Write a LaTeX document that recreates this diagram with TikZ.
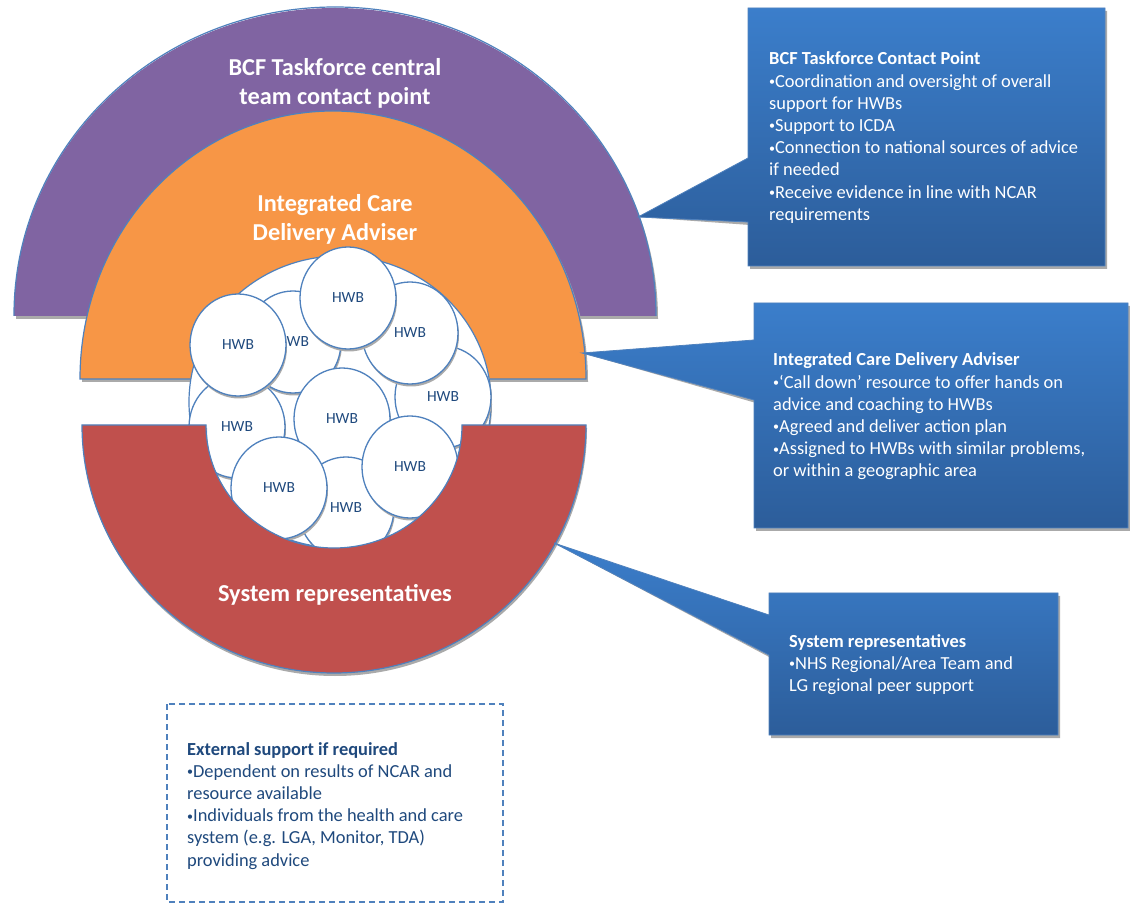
\documentclass[tikz,border=0pt]{standalone}
\usepackage{fontspec}
\setmainfont{Carlito}
\usetikzlibrary{shapes.geometric,shadows}
\definecolor{cpurple}{RGB}{128,100,162}
\definecolor{corange}{RGB}{247,150,70}
\definecolor{cred}{RGB}{192,80,77}
\definecolor{cline}{RGB}{79,129,189}
\definecolor{boxtop}{RGB}{59,126,203}
\definecolor{boxbot}{RGB}{44,93,154}
\definecolor{darkblue}{RGB}{31,73,125}
\definecolor{shade}{RGB}{170,170,170}
\newcommand\mybul{\raisebox{1.6pt}{\fontsize{12}{12}\selectfont •}}
\begin{document}
\begin{tikzpicture}[x=1pt,y=1pt,
  ring/.style={draw=cline,line width=1.2pt},
  shadowfill/.style={fill=shade},
  callout/.style={top color=boxtop,bottom color=boxbot,draw=cline,line width=0.8pt},
  bigtext/.style={text=white,font=\fontsize{24.3}{29}\selectfont\bfseries,align=center,inner sep=0pt},
  boxtext/.style={text=white,font=\fontsize{18.4}{22.2}\selectfont,align=left,inner sep=0pt},
  exttext/.style={text=darkblue,font=\fontsize{18.4}{22.2}\selectfont,align=left,inner sep=0pt},
  hwb/.style={ellipse,draw=cline,line width=1.3pt,fill=white,minimum width=96pt,minimum height=102pt,inner sep=0pt,
    text=darkblue,font=\fontsize{15.5}{17}\selectfont,
    drop shadow={shadow xshift=1pt,shadow yshift=-2.5pt,fill=shade,opacity=1}}
]
\useasboundingbox (0,0) rectangle (1130,906);
\fill[white] (0,0) rectangle (1130,906);

% purple half ring
\fill[shadowfill,shift={(2,-3)}] (14,590) arc[start angle=180,end angle=0,x radius=321pt,y radius=308pt] -- cycle;
\fill[cpurple] (14,590) arc[start angle=180,end angle=0,x radius=321pt,y radius=308pt] -- cycle;
\draw[ring] (14,590) -- (14,591) arc[start angle=180,end angle=0,x radius=321pt,y radius=308pt] -- (656,590);

% orange half ring
\fill[shadowfill,shift={(2,-3)}] (80,527) arc[start angle=180,end angle=0,x radius=253pt,y radius=268pt] -- cycle;
\filldraw[fill=corange,ring] (80,527) arc[start angle=180,end angle=0,x radius=253pt,y radius=268pt] -- cycle;

% cluster background
\filldraw[fill=white,ring,drop shadow={shadow xshift=1pt,shadow yshift=-2.5pt,fill=shade,opacity=1}] (340,504) ellipse[x radius=151pt,y radius=146pt];

% HWB circles
\node[hwb] (h7) at (237,479) {HWB};
\node[hwb] (h3) at (293,564) {HWB};
\node[hwb] (h5) at (443,509) {HWB};
\node[hwb] (h6) at (342,487) {HWB};
\node[hwb] (h9) at (346,398) {HWB};
\node[hwb] (h4) at (410,573) {HWB};
\node[hwb] (h2) at (238,561) {HWB};
\node[hwb] (h1) at (348,608) {HWB};
\node[hwb] (h8) at (279,418) {HWB};
\node[hwb] (h10) at (410,439) {HWB};

% red lower half ring
\fill[shadowfill,shift={(1,-3)}] (82,481) arc[start angle=180,end angle=360,x radius=252pt,y radius=248pt] -- (462,481) arc[start angle=0,end angle=-180,x radius=128pt,y radius=123pt] -- cycle;
\filldraw[fill=cred,ring] (82,481) arc[start angle=180,end angle=360,x radius=252pt,y radius=248pt] -- (462,481) arc[start angle=0,end angle=-180,x radius=128pt,y radius=123pt] -- cycle;

% ring labels (base = baseline of last line)
\node[bigtext,anchor=base] (lbcf) at (335,801) {BCF Taskforce central\\team contact point};
\node[bigtext,anchor=base] (licda) at (335,665) {Integrated Care\\Delivery Adviser};
\node[bigtext,anchor=base] (lsys) at (335,305) {System representatives};

% callout tips
\coordinate (tip1) at (638,689);
\coordinate (tip2) at (582,553);
\coordinate (tip3) at (554,363);

% callout 1
\fill[shadowfill,shift={(2,-3)}] (748,898) -- (1105,898) -- (1105,640) -- (748,640) -- (748,684) -- (tip1) -- (748,748) -- cycle;
\shade[callout] (748,898) -- (1105,898) -- (1105,640) -- (748,640) -- (748,684) -- (tip1) -- (748,748) -- cycle;
\node[boxtext,anchor=base west] (t1) at (769,685.6) {\textbf{BCF Taskforce Contact Point}\\\mybul Coordination and oversight of overall\\support for HWBs\\\mybul Support to ICDA\\\mybul Connection to national sources of advice\\if needed\\\mybul Receive evidence in line with NCAR\\requirements};

% callout 2
\fill[shadowfill,shift={(2,-3)}] (754,603) -- (1128,603) -- (1128,378) -- (754,378) -- (754,506) -- (tip2) -- (754,566) -- cycle;
\shade[callout] (754,603) -- (1128,603) -- (1128,378) -- (754,378) -- (754,506) -- (tip2) -- (754,566) -- cycle;
\node[boxtext,anchor=base west] (t2) at (773,429) {\textbf{Integrated Care Delivery Adviser}\\\mybul‘Call down’ resource to offer hands on\\advice and coaching to HWBs\\\mybul Agreed and deliver action plan\\\mybul Assigned to HWBs with similar problems,\\or within a geographic area};

% callout 3
\fill[shadowfill,shift={(2,-3)}] (769,313) -- (1058,313) -- (1058,171) -- (769,171) -- (769,251) -- (tip3) -- (769,291) -- cycle;
\shade[callout] (769,313) -- (1058,313) -- (1058,171) -- (769,171) -- (769,251) -- (tip3) -- (769,291) -- cycle;
\node[boxtext,anchor=base west] (t3) at (789,214.6) {\textbf{System representatives}\\\mybul NHS Regional/Area Team and\\LG regional peer support};

% external support
\draw[cline,line width=1.3pt,dash pattern=on 6pt off 4pt] (167,202) rectangle (503,4);
\node[exttext,anchor=base west] (t4) at (187,40) {\textbf{External support if required}\\\mybul Dependent on results of NCAR and\\resource available\\\mybul Individuals from the health and care\\system (e.g. LGA, Monitor, TDA)\\providing advice};
\end{tikzpicture}
\end{document}
